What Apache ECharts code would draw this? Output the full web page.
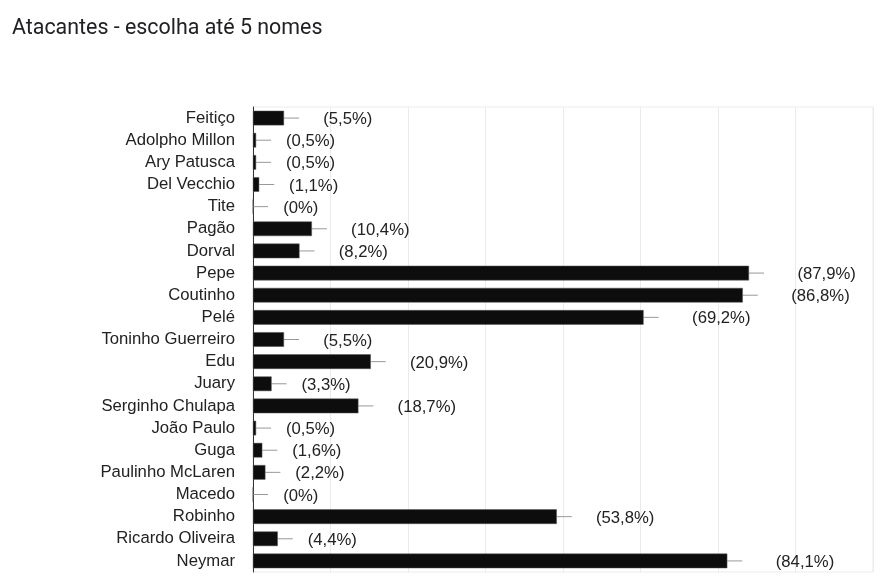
<!DOCTYPE html>
<html>
<head>
<meta charset="utf-8">
<script src="https://cdn.jsdelivr.net/npm/echarts@6/dist/echarts.min.js"></script>
<style>
html,body{margin:0;padding:0;background:#fff;}
#chart{width:885px;height:579px;}
</style>
</head>
<body>
<div id="chart"></div>
<script>
// dados (182 respostas)
var nomes = ['Feitiço', 'Adolpho Millon', 'Ary Patusca', 'Del Vecchio', 'Tite', 'Pagão', 'Dorval', 'Pepe', 'Coutinho', 'Pelé',
    'Toninho Guerreiro', 'Edu', 'Juary', 'Serginho Chulapa', 'João Paulo', 'Guga', 'Paulinho McLaren', 'Macedo', 'Robinho', 'Ricardo Oliveira', 'Neymar'];
var votos = [10, 1, 1, 2, 0, 19, 15, 160, 158, 126, 10, 38, 6, 34, 1, 3, 4, 0, 98, 8, 153];
var pct = [5.5, 0.5, 0.5, 1.1, 0, 10.4, 8.2, 87.9, 86.8, 69.2, 5.5, 20.9, 3.3, 18.7, 0.5, 1.6, 2.2, 0, 53.8, 4.4, 84.1];
var xTicks = [0, 25, 50, 75, 100, 125, 150, 175, 200];

function fmtPct(v) {
    return '(' + String(v).replace('.', ',') + '%)';
}

var myChart = echarts.init(document.getElementById('chart'));
var option = {
    backgroundColor: '#fff',
    animation: false,
    title: {
        text: 'Atacantes - escolha até 5 nomes',
        left: 12,
        top: 18,
        padding: 0,
        textStyle: {
            fontFamily: 'Roboto',
            fontSize: 21.4,
            fontWeight: 'normal',
            color: '#202124'
        }
    },
    grid: {
        left: 253,
        right: 12,
        top: 107,
        bottom: 7,
        show: true,
        borderColor: '#ebebeb',
        borderWidth: 1
    },
    xAxis: {
        type: 'value',
        min: xTicks[0],
        max: xTicks[xTicks.length - 1],
        interval: 25,
        axisLabel: {show: false},
        axisLine: {show: false},
        axisTick: {show: false},
        splitLine: {lineStyle: {color: '#ebebeb'}}
    },
    yAxis: {
        type: 'category',
        inverse: true,
        data: nomes,
        axisLine: {show: true, lineStyle: {color: '#333', width: 1}},
        axisTick: {show: false},
        axisLabel: {
            fontFamily: 'Liberation Sans',
            fontSize: 16.7,
            color: '#222',
            margin: 18,
            padding: [3, 0, 0, 0]
        }
    },
    series: [
        {
            type: 'bar',
            data: votos,
            barWidth: '66%',
            itemStyle: {color: '#0d0d0d', borderColor: '#555', borderWidth: 0.5},
            label: {
                show: true,
                position: 'right',
                distance: 16,
                formatter: function (p) {
                    return '{h|' + votos[p.dataIndex] + ' }{p|' + fmtPct(pct[p.dataIndex]) + '}';
                },
                rich: {
                    h: {fontFamily: 'Liberation Sans', fontSize: 16.7, color: 'rgba(0,0,0,0)', padding: [3, 0, 0, 0]},
                    p: {fontFamily: 'Liberation Sans', fontSize: 16.7, color: '#222', padding: [3, 0, 0, 0]}
                }
            },
            z: 3
        },
        {
            // traço cinza depois de cada barra
            type: 'custom',
            data: votos.map(function (v, i) { return [v, i]; }),
            renderItem: function (params, api) {
                var pt = api.coord([api.value(0), api.value(1)]);
                return {
                    type: 'line',
                    shape: {x1: pt[0], y1: pt[1], x2: pt[0] + 15, y2: pt[1]},
                    style: {stroke: '#999', lineWidth: 1}
                };
            },
            z: 2
        }
    ]
};
myChart.setOption(option);
</script>
</body>
</html>
